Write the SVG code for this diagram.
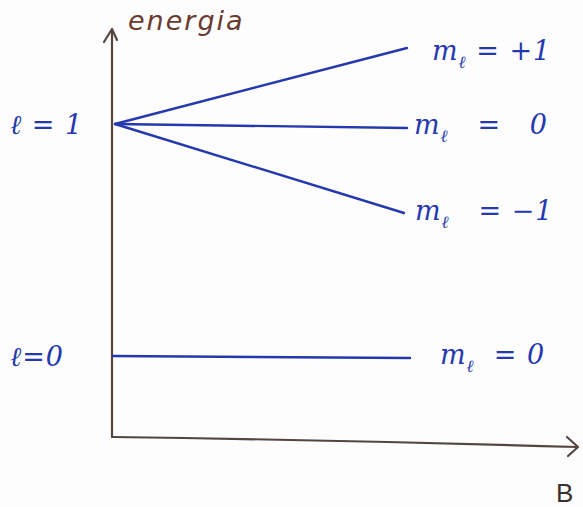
<svg xmlns="http://www.w3.org/2000/svg" width="583" height="507" viewBox="0 0 583 507">
<style>
.axis{stroke:#55453f;stroke-width:2.2;fill:none;stroke-linecap:round;stroke-linejoin:round}
.lvl{stroke:#2438b0;stroke-width:2.4;fill:none;stroke-linecap:round}
.t{font-family:"DejaVu Serif","Liberation Serif",serif;font-style:italic;fill:#2438b0;font-size:27px;letter-spacing:1px}
.s{font-size:17px}
.e{font-family:"DejaVu Sans","Liberation Sans",sans-serif;fill:#6a3a30;font-size:27px;font-style:italic;letter-spacing:2px}
.b{font-family:"Liberation Sans",sans-serif;fill:#3a302c;font-size:26px}
</style>
<rect width="583" height="507" fill="#fdfdfd"/>
<g id="axes">
<path class="axis" d="M112 437 L112 30"/>
<path class="axis" d="M104 42 L112 29 L117 40"/>
<path class="axis" d="M112 437 Q340 440 577 447"/>
<path class="axis" d="M567 437 L578 447 L568 456"/>
</g>
<g id="connectors">
<path class="lvl" d="M115 124 L407 48"/>
<path class="lvl" d="M115 124 L407 128"/>
<path class="lvl" d="M115 124 L404 213"/>
<path class="lvl" d="M113 356 L410 358"/>
</g>
<g id="label-energia"><text class="e" x="128" y="30">energia</text></g>
<g id="label-l1"><text class="t" x="10" y="134">ℓ = 1</text></g>
<g id="label-l0"><text class="t" x="10" y="366">ℓ=0</text></g>
<g id="label-mp1"><text class="t" x="432" y="60" xml:space="preserve">m<tspan class="s" dy="8">ℓ</tspan><tspan dy="-8"> = +1</tspan></text></g>
<g id="label-m0"><text class="t" x="414" y="134" xml:space="preserve">m<tspan class="s" dy="8">ℓ</tspan><tspan dy="-8">   =   0</tspan></text></g>
<g id="label-mm1"><text class="t" x="415" y="220" xml:space="preserve">m<tspan class="s" dy="8">ℓ</tspan><tspan dy="-8">   = −1</tspan></text></g>
<g id="label-m00"><text class="t" x="440" y="364" xml:space="preserve">m<tspan class="s" dy="8">ℓ</tspan><tspan dy="-8">  = 0</tspan></text></g>
<g id="label-B"><text class="b" x="556" y="502">B</text></g>
</svg>
